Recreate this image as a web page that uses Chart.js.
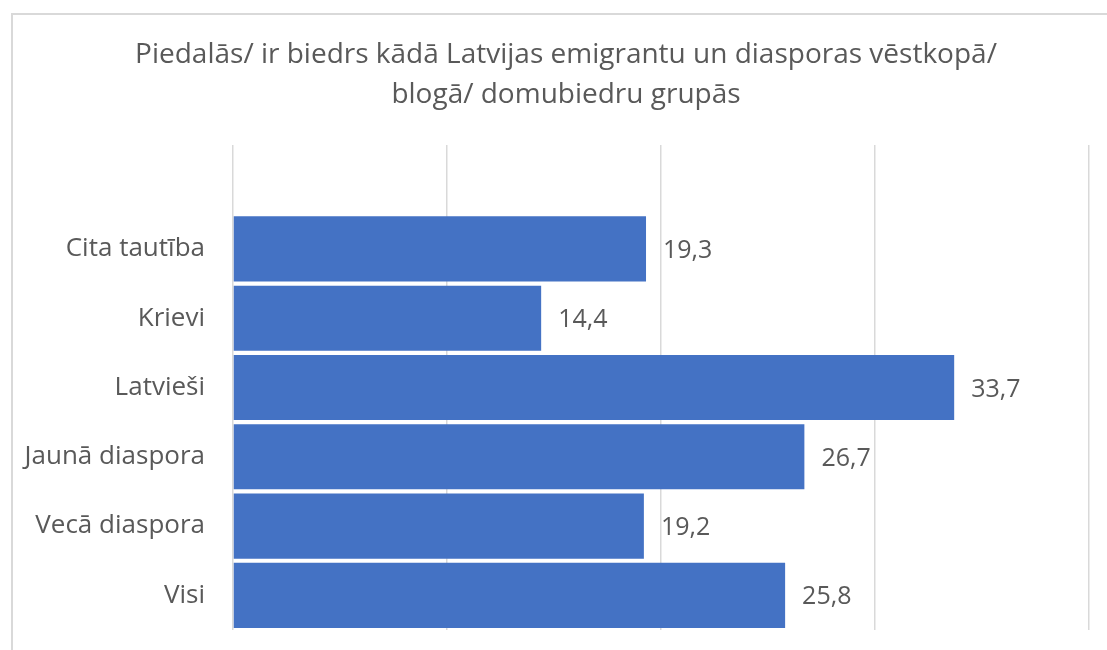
<!DOCTYPE html>
<html>
<head>
<meta charset="utf-8">
<script src="https://cdn.jsdelivr.net/npm/chart.js@4/dist/chart.umd.min.js"></script>
<style>
  html, body { margin: 0; padding: 0; background: #fff; }
  #wrap { position: relative; width: 1107px; height: 650px; overflow: hidden; }
  #frame { position: absolute; left: 11px; top: 13px; width: 1120px; height: 660px;
           border: 2px solid #d9d9d9; box-sizing: border-box; }
  canvas { position: absolute; left: 0; top: 0; }
</style>
</head>
<body>
<div id="wrap">
  <div id="frame"></div>
  <canvas id="chart" width="1107" height="650"></canvas>
</div>
<script>
// categories top to bottom (first one is an empty slot, as in the source chart)
const categories = ['', 'Cita tautība', 'Krievi', 'Latvieši', 'Jaunā diaspora', 'Vecā diaspora', 'Visi'];
const values = [null, 19.3, 14.4, 33.7, 26.7, 19.2, 25.8];
const titleLines = ['Piedalās/ ir biedrs kādā Latvijas emigrantu un diasporas vēstkopā/', 'blogā/ domubiedru grupās'];

const textColor = '#595959';
const fontFamily = '"Open Sans", "Liberation Sans", sans-serif';

// draws value labels right of each bar, with a decimal comma
const valueLabels = {
    id: 'valueLabels',
    afterDatasetsDraw(chart) {
        const ctx = chart.ctx;
        const meta = chart.getDatasetMeta(0);
        ctx.save();
        ctx.font = '25px ' + fontFamily;
        ctx.fillStyle = textColor;
        ctx.textAlign = 'left';
        ctx.textBaseline = 'middle';
        meta.data.forEach((bar, i) => {
            const v = values[i];
            if (v == null) return;
            ctx.fillText(v.toFixed(1).replace('.', ','), bar.x + 17, bar.y + 2);
        });
        ctx.restore();
    }
};

// title centred on the whole frame, not only on the padded box
const frameTitle = {
    id: 'frameTitle',
    afterDraw(chart) {
        const ctx = chart.ctx;
        ctx.save();
        ctx.font = '28px ' + fontFamily;
        ctx.fillStyle = textColor;
        ctx.textAlign = 'center';
        ctx.textBaseline = 'middle';
        titleLines.forEach((line, i) => ctx.fillText(line, 566, 55 + i * 40));
        ctx.restore();
    }
};

new Chart(document.getElementById('chart').getContext('2d'), {
    type: 'bar',
    data: {
        labels: categories,
        datasets: [{
            data: values,
            backgroundColor: '#4472C4',
            barPercentage: 0.94,
            categoryPercentage: 1.0
        }]
    },
    options: {
        indexAxis: 'y',
        responsive: false,
        animation: false,
        layout: { padding: { left: 11, right: 18, top: 145, bottom: 20 } },
        plugins: {
            legend: { display: false },
            tooltip: { enabled: false },
            title: { display: false }
        },
        scales: {
            x: {
                min: 0, max: 40,
                ticks: { display: false, stepSize: 10 },
                grid: { color: '#d9d9d9', lineWidth: 1.5, drawTicks: false },
                border: { display: false },
                afterFit(scale) { scale.height = 0; }
            },
            y: {
                grid: { display: false, drawTicks: false },
                border: { display: false },
                ticks: {
                    color: textColor,
                    padding: 28,
                    font: { family: fontFamily, size: 26 }
                },
                afterFit(scale) {
                    scale.width = 222;
                    scale.paddingTop = 0;
                    scale.paddingBottom = 0;
                }
            }
        }
    },
    plugins: [valueLabels, frameTitle]
});
</script>
</body>
</html>
